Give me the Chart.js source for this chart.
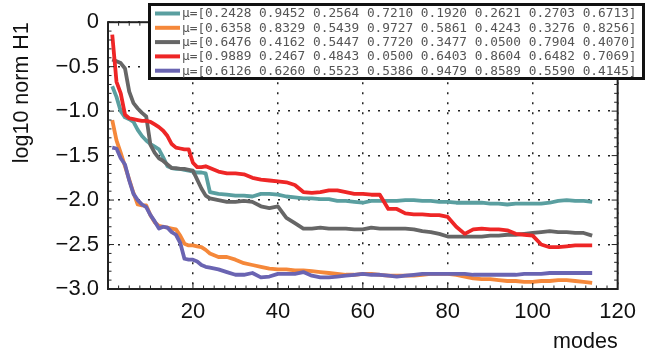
<!DOCTYPE html>
<html>
<head>
<meta charset="utf-8">
<script src="https://cdn.jsdelivr.net/npm/chart.js@4"></script>
<style>
  html, body { margin: 0; padding: 0; background: #fff; }
  #wrap { width: 646px; height: 353px; }
</style>
</head>
<body>
<div id="wrap"><canvas id="modesChart" width="646" height="353"></canvas></div>
<script>
// x values (modes) shared by all series
const modes = [1, 2, 3, 4, 5, 6, 7, 8, 9, 10, 11, 12, 13, 14, 15, 16, 17, 18, 19, 20, 21, 22, 23, 24,
  26, 28, 30, 32, 34, 36, 38, 40, 42, 44, 46, 48, 50, 52, 54, 56, 58, 60, 62, 64, 66, 68, 70,
  72, 74, 76, 78, 80, 82, 84, 86, 88, 90, 92, 94, 96, 98, 100, 102, 104, 106, 108, 110, 112, 114];

const tealVals = [-0.72, -0.84, -1.00, -1.07, -1.09, -1.12, -1.21, -1.28, -1.33, -1.37, -1.40, -1.43,
  -1.52, -1.62, -1.64, -1.65, -1.65, -1.66, -1.67, -1.68, -1.69, -1.69, -1.70, -1.91,
  -1.93, -1.94, -1.95, -1.95, -1.96, -1.93, -1.93, -1.94, -1.96, -1.97, -1.98, -1.98, -1.99, -1.99,
  -2.01, -2.01, -2.02, -2.03, -2.01, -2.01, -2.01, -2.01, -2.00, -2.00, -2.01, -2.01, -2.02, -2.02,
  -2.03, -2.03, -2.03, -2.03, -2.04, -2.04, -2.05, -2.04, -2.04, -2.04, -2.04, -2.03, -2.01, -2.00,
  -2.01, -2.01, -2.02];

const orangeVals = [-1.10, -1.33, -1.47, -1.62, -1.77, -1.92, -2.05, -2.06, -2.06, -2.17, -2.25, -2.29,
  -2.30, -2.31, -2.32, -2.33, -2.40, -2.49, -2.51, -2.51, -2.52, -2.53, -2.56, -2.60,
  -2.64, -2.64, -2.67, -2.71, -2.73, -2.75, -2.77, -2.78, -2.78, -2.79, -2.79, -2.80, -2.81, -2.82,
  -2.83, -2.84, -2.84, -2.83, -2.83, -2.84, -2.85, -2.85, -2.85, -2.85, -2.84, -2.83, -2.83, -2.83,
  -2.84, -2.86, -2.88, -2.89, -2.89, -2.90, -2.91, -2.91, -2.92, -2.92, -2.91, -2.91, -2.90, -2.90,
  -2.91, -2.92, -2.93];

const grayVals = [-0.42, -0.44, -0.46, -0.52, -0.78, -0.91, -0.97, -1.02, -1.06, -1.38, -1.47, -1.53,
  -1.56, -1.60, -1.64, -1.64, -1.65, -1.65, -1.66, -1.67, -1.77, -1.87, -1.95, -1.98,
  -2.00, -2.02, -2.02, -2.01, -2.02, -2.07, -2.09, -2.07, -2.20, -2.26, -2.32, -2.32, -2.31, -2.32,
  -2.32, -2.32, -2.33, -2.33, -2.31, -2.32, -2.32, -2.32, -2.32, -2.33, -2.35, -2.36, -2.38, -2.41,
  -2.41, -2.41, -2.41, -2.41, -2.40, -2.40, -2.39, -2.39, -2.38, -2.37, -2.36, -2.35, -2.36, -2.36,
  -2.37, -2.37, -2.40];

const redVals = [-0.14, -0.67, -0.80, -1.04, -1.08, -1.09, -1.10, -1.11, -1.11, -1.12, -1.15, -1.18,
  -1.22, -1.28, -1.37, -1.41, -1.42, -1.43, -1.43, -1.58, -1.63, -1.63, -1.62, -1.64,
  -1.68, -1.70, -1.70, -1.71, -1.75, -1.77, -1.78, -1.79, -1.80, -1.83, -1.91, -1.92, -1.91, -1.89,
  -1.89, -1.91, -1.93, -1.93, -1.94, -1.94, -2.10, -2.10, -2.15, -2.16, -2.16, -2.17, -2.17, -2.19,
  -2.30, -2.38, -2.33, -2.32, -2.33, -2.33, -2.34, -2.38, -2.39, -2.40, -2.50, -2.53, -2.53, -2.52,
  -2.51, -2.51, -2.51];

const purpleVals = [-1.41, -1.42, -1.53, -1.60, -1.78, -1.93, -2.00, -2.05, -2.08, -2.17, -2.24, -2.32,
  -2.30, -2.31, -2.36, -2.39, -2.48, -2.66, -2.67, -2.67, -2.69, -2.73, -2.75, -2.76,
  -2.78, -2.81, -2.84, -2.84, -2.82, -2.87, -2.86, -2.83, -2.83, -2.83, -2.81, -2.85, -2.87, -2.87,
  -2.86, -2.85, -2.84, -2.83, -2.84, -2.84, -2.85, -2.86, -2.85, -2.84, -2.83, -2.83, -2.83, -2.83,
  -2.83, -2.83, -2.84, -2.84, -2.84, -2.84, -2.84, -2.84, -2.83, -2.83, -2.83, -2.82, -2.82, -2.82,
  -2.82, -2.82, -2.82];

const seriesLabels = [
  "μ=[0.2428 0.9452 0.2564 0.7210 0.1920 0.2621 0.2703 0.6713]",
  "μ=[0.6358 0.8329 0.5439 0.9727 0.5861 0.4243 0.3276 0.8256]",
  "μ=[0.6476 0.4162 0.5447 0.7720 0.3477 0.0500 0.7904 0.4070]",
  "μ=[0.9889 0.2467 0.4843 0.0500 0.6403 0.8604 0.6482 0.7069]",
  "μ=[0.6126 0.6260 0.5523 0.5386 0.9479 0.8589 0.5590 0.4145]"
];
const seriesColors = ["#5a9fa0", "#f5883a", "#666666", "#ee2626", "#6a64b2"];
const yTicks = [0, -0.5, -1.0, -1.5, -2.0, -2.5, -3.0];
const xTicks = [20, 40, 60, 80, 100, 120];

const allVals = [tealVals, orangeVals, grayVals, redVals, purpleVals];

// frame, inward ticks and the boxed legend (MATLAB look)
const frameLegend = {
  id: "frameLegend",
  afterDraw(chart) {
    const { ctx, chartArea: a, scales: { x, y } } = chart;
    const line = (x1, y1, x2, y2) => { ctx.beginPath(); ctx.moveTo(x1, y1); ctx.lineTo(x2, y2); ctx.stroke(); };
    ctx.save();
    ctx.strokeStyle = "#222";
    ctx.lineWidth = 1;
    for (let k = 0; k <= 48; k++) {
      const v = k * 2.5, px = x.getPixelForValue(v);
      const len = v % 20 === 0 ? 6 : 3.5;
      line(px, a.bottom, px, a.bottom - len);
      line(px, a.top, px, a.top + len);
    }
    for (let k = 0; k <= 30; k++) {
      const py = y.getPixelForValue(-k / 10);
      const len = k % 5 === 0 ? 6 : 3.5;
      line(a.left, py, a.left + len, py);
      line(a.right, py, a.right - len, py);
    }
    ctx.lineWidth = 2;
    ctx.strokeRect(a.left, a.top, a.right - a.left, a.bottom - a.top);

    // legend box
    ctx.fillStyle = "#fff";
    ctx.fillRect(149.5, 4.5, 494, 74);
    ctx.lineWidth = 3;
    ctx.strokeStyle = "#111";
    ctx.strokeRect(149.5, 4.5, 494, 74);
    ctx.font = "12.8px 'DejaVu Sans Mono', monospace";
    ctx.textBaseline = "middle";
    ctx.textAlign = "left";
    chart.data.datasets.forEach((ds, i) => {
      const ry = 13.5 + i * 14.3;
      ctx.strokeStyle = ds.borderColor;
      ctx.lineWidth = 4;
      line(155, ry, 180, ry);
      ctx.fillStyle = "#555";
      ctx.fillText(ds.label, 182, ry + 0.5);
    });
    ctx.restore();
  }
};

new Chart(document.getElementById("modesChart"), {
  type: "line",
  data: {
    datasets: allVals.map((vals, i) => ({
      label: seriesLabels[i],
      data: modes.map((m, j) => ({ x: m, y: vals[j] })),
      borderColor: seriesColors[i],
      borderWidth: 3.8,
      pointRadius: 0,
      tension: 0,
      fill: false,
      borderJoinStyle: "round",
      order: 4 - i
    }))
  },
  options: {
    responsive: false,
    animation: false,
    layout: { padding: { top: 16, right: 22, left: 0, bottom: 0 } },
    plugins: { legend: { display: false }, tooltip: { enabled: false } },
    scales: {
      x: {
        type: "linear",
        min: 0, max: 120,
        afterBuildTicks: s => { s.ticks = xTicks.map(v => ({ value: v })); },
        afterFit: s => { s.height = 64; },
        grid: { color: "#222", lineWidth: 1.5, drawTicks: false },
        border: { display: false, dash: [2, 8] },
        ticks: { color: "#111", padding: 10, maxRotation: 0, autoSkip: false,
          font: { family: "'Liberation Sans', Arial, sans-serif", size: 22 } },
        title: { display: true, text: "modes", align: "end", color: "#111",
          padding: { top: 0, bottom: 0 },
          font: { family: "'Liberation Sans', Arial, sans-serif", size: 21.5, lineHeight: 1 } }
      },
      y: {
        min: -3, max: 0,
        afterBuildTicks: s => { s.ticks = yTicks.map(v => ({ value: v })); },
        afterFit: s => { s.width = 108; },
        grid: { color: "#222", lineWidth: 1.5, drawTicks: false },
        border: { display: false, dash: [2, 8] },
        ticks: { color: "#111", padding: 9, autoSkip: false,
          font: { family: "'Liberation Sans', Arial, sans-serif", size: 22 },
          callback: v => v === 0 ? "0" : "\u2212" + Math.abs(v).toFixed(1) },
        title: { display: true, text: "log10 norm H1", align: "end", color: "#111",
          padding: { top: 9, bottom: 0 },
          font: { family: "'Liberation Sans', Arial, sans-serif", size: 21.5 } }
      }
    }
  },
  plugins: [frameLegend]
});
</script>
</body>
</html>
